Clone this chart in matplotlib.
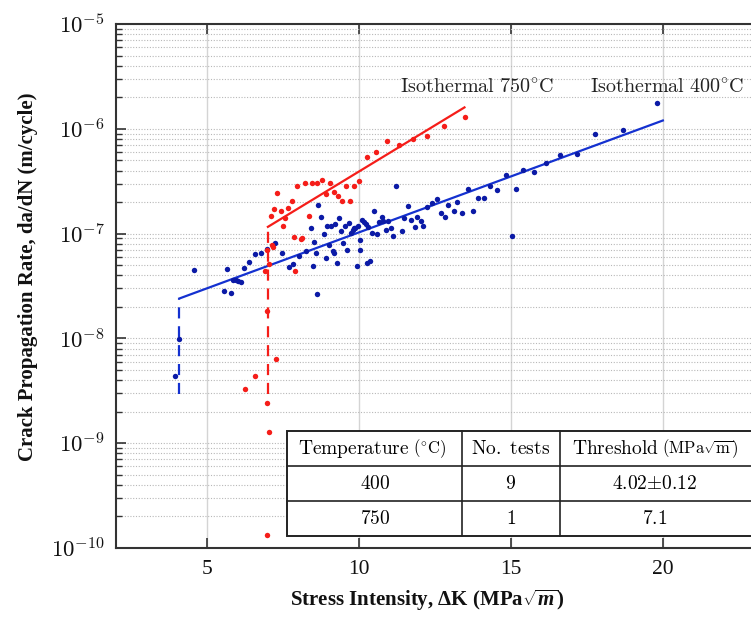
import matplotlib
matplotlib.use("Agg")
import matplotlib.pyplot as plt
from matplotlib.ticker import FuncFormatter, NullFormatter, FixedLocator
from matplotlib.lines import Line2D
from matplotlib.patches import Rectangle
import numpy as np

plt.rcParams['mathtext.fontset'] = 'cm'
plt.rcParams['mathtext.rm'] = 'Liberation Serif:bold'
plt.rcParams['mathtext.it'] = 'Liberation Serif:italic:bold'
plt.rcParams['mathtext.bf'] = 'Liberation Serif:bold'

# ---------------- data ----------------
blue_dk = [4.57, 5.66, 5.56, 5.79, 5.86, 5.95, 6.03, 6.11, 6.22, 6.38, 6.57, 6.77, 6.97, 7.24,
           7.47, 7.69, 7.84, 8.03, 8.26, 8.50, 8.53, 8.58, 8.43, 8.66, 8.76, 8.83, 8.90, 8.94,
           9.07, 9.00, 9.14, 9.17, 9.22, 9.29, 9.34, 9.41, 9.47, 9.54, 9.60, 9.67, 9.73, 9.80,
           9.84, 9.88, 9.93, 9.97, 10.03, 10.03, 10.10, 10.17, 10.22, 10.26, 10.36, 10.31,
           10.42, 10.50, 10.60, 10.67, 10.77, 10.80, 10.89, 10.95, 11.04, 11.13, 11.22, 11.41,
           11.49, 11.60, 11.72, 11.84, 11.90, 12.03, 12.12, 12.23, 12.40, 12.56, 12.70, 12.82,
           12.94, 13.11, 13.24, 13.40, 13.57, 13.76, 13.93, 14.12, 14.31, 14.55, 14.83, 15.03,
           15.15, 15.40, 15.76, 16.16, 16.63, 17.16, 17.78, 18.69, 19.81, 8.61, 4.08, 3.93]
blue_rate = [4.47e-8, 4.60e-8, 2.82e-8, 2.70e-8, 3.64e-8, 3.59e-8, 3.51e-8, 3.46e-8, 4.67e-8,
             5.41e-8, 6.32e-8, 6.60e-8, 7.10e-8, 8.22e-8, 6.54e-8, 4.78e-8, 5.18e-8, 6.08e-8,
             6.84e-8, 4.88e-8, 8.28e-8, 6.54e-8, 1.13e-7, 1.87e-7, 1.43e-7, 1.00e-7, 5.86e-8,
             1.18e-7, 1.18e-7, 7.70e-8, 6.75e-8, 6.54e-8, 1.23e-7, 5.22e-8, 1.40e-7, 1.05e-7,
             8.15e-8, 1.18e-7, 6.94e-8, 1.25e-7, 1.02e-7, 1.08e-7, 1.12e-7, 1.14e-7, 4.91e-8,
             1.18e-7, 6.94e-8, 8.65e-8, 1.36e-7, 1.29e-7, 1.23e-7, 5.25e-8, 5.49e-8, 1.16e-7,
             1.02e-7, 1.63e-7, 1.00e-7, 1.28e-7, 1.44e-7, 1.32e-7, 1.09e-7, 1.33e-7, 1.14e-7,
             9.45e-8, 2.84e-7, 1.05e-7, 1.40e-7, 1.84e-7, 1.34e-7, 1.15e-7, 1.44e-7, 1.32e-7,
             1.18e-7, 1.80e-7, 1.94e-7, 2.12e-7, 1.58e-7, 1.44e-7, 1.86e-7, 1.63e-7, 2.01e-7,
             1.58e-7, 2.65e-7, 1.63e-7, 2.21e-7, 2.18e-7, 2.84e-7, 2.60e-7, 3.59e-7, 9.51e-8,
             2.67e-7, 4.01e-7, 3.83e-7, 4.73e-7, 5.61e-7, 5.73e-7, 8.84e-7, 9.72e-7, 1.75e-6,
             2.68e-8, 9.87e-9, 4.41e-9]

red_dk = [13.49, 12.81, 12.25, 11.78, 11.33, 10.92, 10.56, 10.25, 7.29, 7.96, 8.22, 8.46, 8.61,
          8.78, 9.05, 8.91, 9.18, 9.31, 9.44, 9.57, 9.70, 9.84, 10.00, 7.79, 7.65, 7.19, 7.09,
          7.42, 7.56, 7.51, 8.35, 7.86, 8.08, 8.13, 7.13, 7.16, 6.98, 7.04, 6.91, 7.88, 6.96,
          7.25, 6.59, 6.25, 6.98, 7.05, 6.98]
red_rate = [1.30e-6, 1.06e-6, 8.46e-7, 7.92e-7, 6.99e-7, 7.63e-7, 5.99e-7, 5.40e-7, 2.42e-7,
            2.84e-7, 3.05e-7, 3.01e-7, 3.01e-7, 3.24e-7, 3.01e-7, 2.38e-7, 2.52e-7, 2.28e-7,
            2.05e-7, 2.84e-7, 2.05e-7, 2.84e-7, 3.19e-7, 2.05e-7, 1.75e-7, 1.70e-7, 1.47e-7,
            1.65e-7, 1.40e-7, 1.18e-7, 1.47e-7, 9.30e-8, 8.79e-8, 8.98e-8, 7.80e-8, 7.46e-8,
            6.94e-8, 5.18e-8, 4.40e-8, 4.40e-8, 1.83e-8, 6.36e-9, 4.41e-9, 3.29e-9, 2.42e-9,
            1.27e-9, 1.33e-10]

# Paris-law fits and thresholds
fit400_dk = [4.08, 20.0]
fit400_rate = [2.40e-8, 1.20e-6]
fit750_dk = [7.0, 13.47]
fit750_rate = [1.16e-7, 1.60e-6]
thr_bottom_rate = 2.97e-9

x_ticks = [5, 10, 15, 20]
y_decades = [-10, -9, -8, -7, -6, -5]

table_header = ["Temperature", "No. tests", "Threshold"]
table_header_units = [r"$\mathrm{(^{\circ}C)}$", "", r"$\mathrm{(MPa\sqrt{m})}$"]
table_rows = [["400", "9", r"$\mathrm{4.02}{\pm}\mathrm{0.12}$"],
              ["750", "1", "7.1"]]

label_750 = r"$\mathrm{Isothermal\ 750^{\circ}C}$"
label_400 = r"$\mathrm{Isothermal\ 400^{\circ}C}$"

# ---------------- figure ----------------
W, H = 751, 617
fig = plt.figure(figsize=(W / 100, H / 100), dpi=100)
ax = fig.add_axes([116 / W, (H - 548) / H, (754 - 116) / W, (548 - 24) / H])
ax.set_yscale('log')
ax.set_xlim(2, 23)
ax.set_ylim(1e-10, 1e-5)

blue_mk = '#0b1aa6'
blue_ln = '#1431d0'
red_c = '#f51d19'

major_y = [10.0 ** e for e in y_decades]
minor_y = [m * 10.0 ** e for e in y_decades[:-1] for m in range(2, 10)]

# grid
for xv in x_ticks:
    ax.axvline(xv, color='#d4d4d4', lw=1.0, zorder=0)
ax.yaxis.set_major_locator(FixedLocator(major_y))
ax.yaxis.set_minor_locator(FixedLocator(minor_y))
ax.yaxis.grid(True, which='both', color='#b8b8b8', ls=(0, (1, 1.5)), lw=0.8, zorder=0)
ax.xaxis.grid(False)

# lines
ax.plot(fit400_dk, fit400_rate, color=blue_ln, lw=1.6, zorder=3)
ax.plot([fit400_dk[0], fit400_dk[0]], [thr_bottom_rate, fit400_rate[0]], color=blue_ln, lw=1.6,
        ls=(0, (5, 3.5)), zorder=3)
ax.plot(fit750_dk, fit750_rate, color=red_c, lw=1.6, zorder=3)
ax.plot([fit750_dk[0], fit750_dk[0]], [thr_bottom_rate, fit750_rate[0]], color=red_c, lw=1.6,
        ls=(0, (5, 3.5)), zorder=3)

# points
ax.plot(blue_dk, blue_rate, 'o', color=blue_mk, ms=3.9, mec='none', zorder=4)
ax.plot(red_dk, red_rate, 'o', color=red_c, ms=3.9, mec='none', zorder=4)

# annotations
ax.text(11.35, 2.45e-6, label_750, fontsize=14.5, ha='left', va='center', color='#222222')
ax.text(17.61, 2.45e-6, label_400, fontsize=14.5, ha='left', va='center', color='#222222')

# ticks
ax.xaxis.set_major_locator(FixedLocator(x_ticks))
ax.tick_params(axis='x', which='major', direction='in', length=7, width=1.2, top=True,
               bottom=True, labelsize=15.5, colors='#333333', labelcolor='#111111', pad=9)
ax.tick_params(axis='y', which='major', direction='in', length=7, width=1.2, left=True,
               right=False, labelsize=16.5, colors='#333333', labelcolor='#111111', pad=8)
ax.tick_params(axis='y', which='minor', direction='in', length=4, width=1.0, left=True,
               right=False, colors='#333333')
for lab in ax.get_xticklabels():
    lab.set_family('Liberation Serif')
ax.yaxis.set_major_formatter(FuncFormatter(lambda v, p: r"$10^{%d}$" % int(round(np.log10(v)))))
ax.yaxis.set_minor_formatter(NullFormatter())

for s in ax.spines.values():
    s.set_color('#333333')
    s.set_linewidth(1.5)

# axis labels
ax.set_xlabel(r"Stress Intensity, ΔK (MPa$\sqrt{m}$)", fontsize=15, fontweight='bold',
              family='Liberation Serif', math_fontfamily='custom', color='#111111')
ax.xaxis.set_label_coords((427 - 116) / 638, (548 - 588) / 524)
ax.set_ylabel("Crack Propagation Rate, da/dN (m/cycle)", fontsize=15, fontweight='bold',
              family='Liberation Serif', color='#111111')
ax.yaxis.set_label_coords((38 - 116) / 638, (548 - 277) / 524)

# ---------------- table ----------------
def fx(px):
    return px / W

def fy(py):
    return 1 - py / H

tx0, tx1 = 287, 760
ty = [431, 466, 501, 536]
cx = [462, 560]
fig.patches.append(Rectangle((fx(tx0), fy(ty[-1])), fx(tx1) - fx(tx0), fy(ty[0]) - fy(ty[-1]),
                             transform=fig.transFigure, facecolor='white', edgecolor='#222222',
                             lw=1.4, zorder=5))
for yy in ty[1:-1]:
    fig.add_artist(Line2D([fx(tx0), fx(tx1)], [fy(yy), fy(yy)], color='#222222', lw=1.2, zorder=6))
for xx in cx:
    fig.add_artist(Line2D([fx(xx), fx(xx)], [fy(ty[0]), fy(ty[-1])], color='#222222', lw=1.2, zorder=6))

col_centers = [375, 511, 655]
hdr_split = [410, None, 659]
hy = fy(448.5)
for i, (h, u) in enumerate(zip(table_header, table_header_units)):
    txt = r"$\mathrm{%s}$" % h.replace(" ", r"\ ")
    if u:
        fig.text(fx(hdr_split[i]), hy, txt, fontsize=14, ha='right', va='center', zorder=7)
        fig.text(fx(hdr_split[i] + 3), hy, u, fontsize=12, ha='left', va='center', zorder=7)
    else:
        fig.text(fx(col_centers[i]), hy, txt, fontsize=14, ha='center', va='center', zorder=7)

row_y = [483.5, 518.5]
for r, row in enumerate(table_rows):
    for c, val in enumerate(row):
        s = val if '$' in val else r"$\mathrm{%s}$" % val
        fig.text(fx(col_centers[c]), fy(row_y[r]), s, fontsize=14, ha='center', va='center', zorder=7)

fig.savefig("out.png", dpi=100)
